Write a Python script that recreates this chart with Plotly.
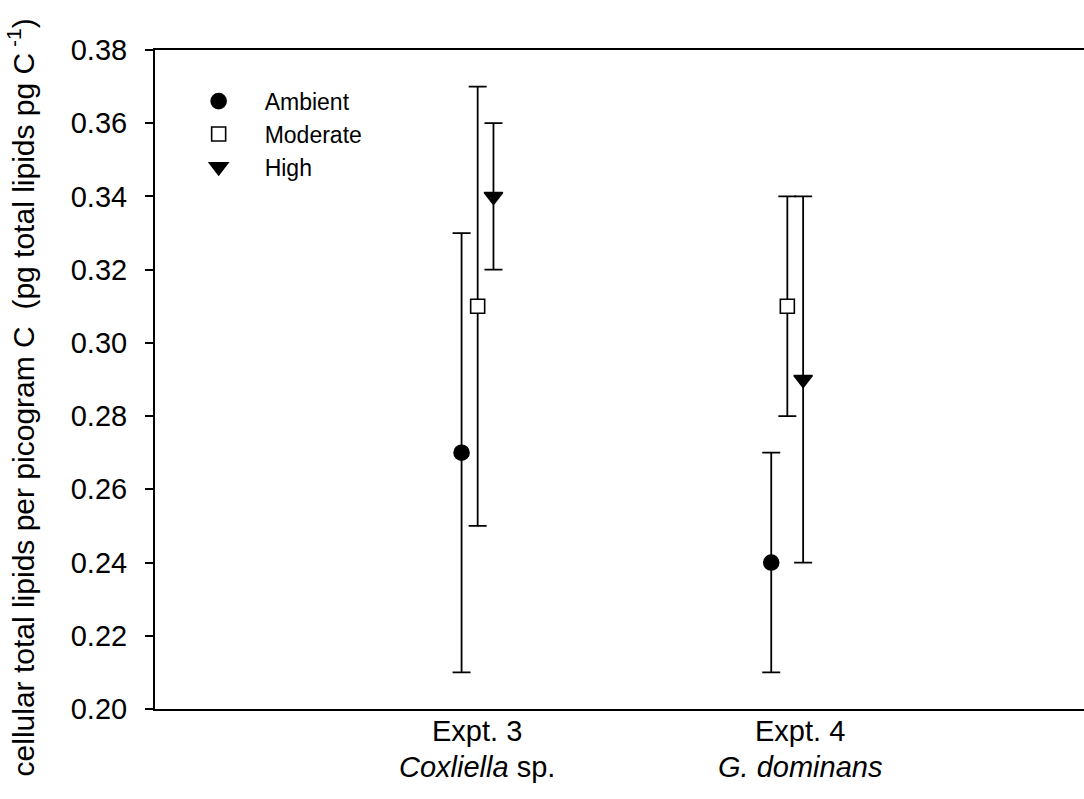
import plotly.graph_objects as go

# Experiments (x positions 1 and 2 on a 0-3 axis)
experiments = ["Expt. 3", "Expt. 4"]
species = ["<i>Coxliella</i> sp.", "<i>G. dominans</i>"]
group_pos = [1, 2]

# Treatment means and error (± half-range) per experiment
treatments = ["Ambient", "Moderate", "High"]
means = {
    "Ambient": [0.27, 0.24],
    "Moderate": [0.31, 0.31],
    "High": [0.34, 0.29],
}
errors = {
    "Ambient": [0.06, 0.03],
    "Moderate": [0.06, 0.03],
    "High": [0.02, 0.05],
}

# Styling of each treatment
offsets = {"Ambient": -0.01, "Moderate": 0.042, "High": 0.093}
symbols = {"Ambient": "circle", "Moderate": "square", "High": "triangle-down"}
fills = {"Ambient": "black", "Moderate": "white", "High": "black"}
sizes = {"Ambient": 15, "Moderate": 14, "High": 16}

y_ticks = [0.20, 0.22, 0.24, 0.26, 0.28, 0.30, 0.32, 0.34, 0.36, 0.38]
label_pos = [1.04, 2.083]

FONT = "Liberation Sans, Arial, sans-serif"

fig = go.Figure()
for t in treatments:
    fig.add_trace(go.Scatter(
        x=[g + offsets[t] for g in group_pos],
        y=means[t],
        mode="markers",
        name=t,
        marker=dict(symbol=symbols[t], size=sizes[t], color=fills[t],
                    line=dict(color="black", width=1.6)),
        error_y=dict(type="data", array=errors[t], visible=True,
                     color="black", thickness=1.8, width=9),
    ))

fig.update_layout(
    width=1084, height=799,
    margin=dict(l=155, r=0, t=50, b=90),
    plot_bgcolor="white", paper_bgcolor="white",
    font=dict(family=FONT, color="black"),
    showlegend=True,
    legend=dict(x=0.019, y=0.955, xanchor="left", yanchor="top",
                bgcolor="rgba(0,0,0,0)", font=dict(size=23, family=FONT),
                itemwidth=82, tracegroupgap=0),
)

fig.update_xaxes(
    range=[0, 3], showgrid=False, zeroline=False,
    showline=True, linecolor="black", linewidth=2, mirror=True,
    showticklabels=False, ticks="",
)
fig.update_yaxes(
    range=[0.20, 0.38], showgrid=False, zeroline=False,
    showline=True, linecolor="black", linewidth=2,
    tickvals=y_ticks, ticktext=[f"{v:.2f}" for v in y_ticks],
    ticks="outside", ticklen=8, tickwidth=1.6, tickcolor="black",
    tickfont=dict(size=29, family=FONT), ticklabelstandoff=12,
)

# Two-line category labels: experiment, then species
for xp, ex, sp in zip(label_pos, experiments, species):
    fig.add_annotation(x=xp, y=0, xref="x", yref="paper",
                       text=ex, showarrow=False, xanchor="center",
                       yanchor="top", yshift=-4,
                       font=dict(size=29, family=FONT))
    fig.add_annotation(x=xp, y=0, xref="x", yref="paper",
                       text=sp, showarrow=False, xanchor="center",
                       yanchor="top", yshift=-40,
                       font=dict(size=29, family=FONT))

# Y-axis title
fig.add_annotation(
    x=-0.1432, y=0.4727, xref="paper", yref="paper",
    text="cellular total lipids per picogram C  (pg total lipids pg C<sup> -1</sup>)",
    textangle=-90, showarrow=False, xanchor="center", yanchor="middle",
    font=dict(size=30, family=FONT),
)

fig.write_html("out.html")
